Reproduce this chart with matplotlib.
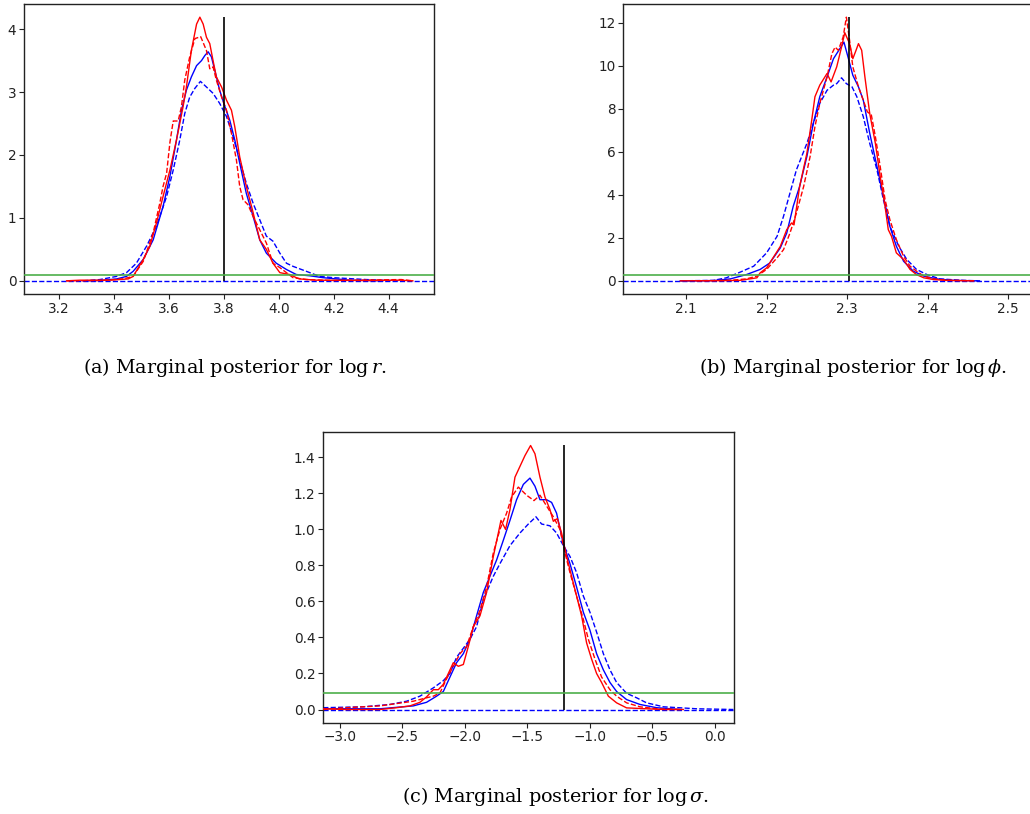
import matplotlib
matplotlib.use("Agg")
import matplotlib.pyplot as plt
import numpy as np

plt.rcParams['font.family'] = ['DejaVu Sans']
plt.rcParams['mathtext.fontset'] = 'dejavuserif'

# ---------------- Panel (a): log r ----------------
a_rs_x = [3.228, 3.276, 3.385, 3.452, 3.470, 3.507, 3.531, 3.555, 3.579, 3.604, 3.628, 3.652, 3.664,
          3.682, 3.701, 3.713, 3.725, 3.737, 3.749, 3.761, 3.773, 3.792, 3.810, 3.828, 3.840, 3.858,
          3.882, 3.907, 3.931, 3.955, 3.979, 4.004, 4.040, 4.064, 4.076, 4.137, 4.319, 4.440, 4.488]
a_rs_y = [0.0, 0.01, 0.01, 0.03, 0.07, 0.34, 0.55, 0.92, 1.34, 1.76, 2.24, 2.77, 3.08,
          3.66, 4.08, 4.19, 4.08, 3.87, 3.77, 3.50, 3.24, 3.08, 2.87, 2.71, 2.45, 1.97,
          1.50, 1.08, 0.65, 0.50, 0.28, 0.13, 0.10, 0.05, 0.03, 0.01, 0.005, 0.01, 0.0]

a_rd_x = [3.228, 3.349, 3.433, 3.470, 3.507, 3.543, 3.567, 3.579, 3.592, 3.604, 3.616, 3.634, 3.646,
          3.658, 3.676, 3.695, 3.716, 3.737, 3.749, 3.761, 3.773, 3.792, 3.810, 3.828, 3.846, 3.858,
          3.870, 3.888, 3.907, 3.931, 3.955, 3.979, 4.004, 4.028, 4.052, 4.101, 4.198, 4.446, 4.488]
a_rd_y = [0.0, 0.005, 0.03, 0.07, 0.31, 0.76, 1.23, 1.50, 1.71, 2.20, 2.54, 2.54, 2.77,
          3.19, 3.56, 3.85, 3.88, 3.66, 3.37, 3.40, 3.19, 2.92, 2.71, 2.34, 1.92, 1.50,
          1.29, 1.21, 1.02, 0.81, 0.60, 0.28, 0.21, 0.13, 0.05, 0.02, 0.005, 0.02, 0.0]

a_bs_x = [3.288, 3.349, 3.410, 3.446, 3.470, 3.507, 3.543, 3.579, 3.604, 3.628, 3.646, 3.664, 3.682,
          3.701, 3.719, 3.731, 3.743, 3.755, 3.767, 3.785, 3.804, 3.822, 3.840, 3.858, 3.882, 3.907,
          3.931, 3.955, 3.991, 4.028, 4.064, 4.113, 4.161, 4.258, 4.379]
a_bs_y = [0.0, 0.005, 0.03, 0.07, 0.15, 0.34, 0.65, 1.18, 1.66, 2.24, 2.71, 3.03, 3.24,
          3.42, 3.50, 3.58, 3.64, 3.56, 3.35, 3.03, 2.77, 2.55, 2.24, 1.87, 1.39, 1.02,
          0.65, 0.44, 0.28, 0.18, 0.10, 0.08, 0.05, 0.01, 0.0]

a_bd_x = [3.288, 3.349, 3.410, 3.446, 3.482, 3.519, 3.555, 3.592, 3.616, 3.640, 3.658, 3.676, 3.695,
          3.715, 3.737, 3.761, 3.785, 3.810, 3.834, 3.858, 3.882, 3.907, 3.931, 3.955, 3.979, 4.004,
          4.028, 4.052, 4.101, 4.149, 4.198, 4.319, 4.440]
a_bd_y = [0.0, 0.02, 0.07, 0.13, 0.28, 0.55, 0.87, 1.34, 1.76, 2.24, 2.66, 2.92, 3.06,
          3.17, 3.08, 2.98, 2.82, 2.61, 2.29, 1.92, 1.55, 1.23, 0.97, 0.71, 0.63, 0.44,
          0.28, 0.23, 0.15, 0.07, 0.05, 0.02, 0.0]

# ---------------- Panel (b): log phi ----------------
b_rs_x = [2.093, 2.134, 2.167, 2.188, 2.192, 2.200, 2.208, 2.217, 2.225, 2.231, 2.234, 2.241, 2.250,
          2.256, 2.260, 2.266, 2.275, 2.280, 2.287, 2.293, 2.297, 2.303, 2.307, 2.311, 2.314, 2.318,
          2.322, 2.328, 2.335, 2.341, 2.347, 2.351, 2.355, 2.361, 2.370, 2.378, 2.386, 2.395, 2.407,
          2.423, 2.457]
b_rs_y = [0.0, 0.005, 0.02, 0.14, 0.37, 0.60, 1.07, 1.60, 2.38, 2.69, 2.60, 4.39, 5.93,
          7.47, 8.56, 9.10, 9.64, 9.25, 9.95, 10.87, 11.54, 11.03, 10.33, 10.72, 11.03, 10.72,
          9.48, 7.78, 6.39, 4.85, 3.46, 2.38, 2.07, 1.30, 0.99, 0.53, 0.29, 0.14, 0.06,
          0.02, 0.0]

b_rd_x = [2.113, 2.154, 2.175, 2.188, 2.200, 2.213, 2.221, 2.229, 2.237, 2.246, 2.254, 2.260, 2.266,
          2.275, 2.281, 2.285, 2.289, 2.295, 2.299, 2.303, 2.307, 2.314, 2.320, 2.325, 2.330, 2.335,
          2.341, 2.347, 2.353, 2.361, 2.370, 2.378, 2.386, 2.395, 2.407, 2.423, 2.457]
b_rd_y = [0.0, 0.02, 0.09, 0.22, 0.53, 1.07, 1.45, 2.22, 3.15, 4.39, 5.78, 7.17, 8.25,
          9.48, 10.56, 10.87, 10.72, 11.34, 12.26, 11.18, 9.95, 9.02, 8.40, 7.86, 7.71, 6.70,
          5.31, 3.77, 2.84, 1.92, 1.14, 0.68, 0.45, 0.22, 0.09, 0.03, 0.0]

b_bs_x = [2.093, 2.134, 2.155, 2.175, 2.192, 2.204, 2.217, 2.225, 2.233, 2.241, 2.250, 2.258, 2.266,
          2.275, 2.283, 2.291, 2.296, 2.301, 2.307, 2.314, 2.320, 2.328, 2.337, 2.345, 2.353, 2.361,
          2.370, 2.382, 2.395, 2.411, 2.432, 2.461]
b_bs_y = [0.0, 0.01, 0.09, 0.29, 0.53, 0.83, 1.53, 2.22, 3.46, 4.39, 5.78, 7.32, 8.56,
          9.48, 10.33, 10.80, 11.10, 10.41, 9.56, 9.02, 8.40, 6.86, 5.31, 3.92, 2.53, 1.61,
          0.91, 0.45, 0.22, 0.09, 0.02, 0.0]

b_bd_x = [2.093, 2.134, 2.150, 2.167, 2.184, 2.200, 2.213, 2.221, 2.229, 2.237, 2.250, 2.258, 2.266,
          2.275, 2.283, 2.287, 2.293, 2.299, 2.306, 2.312, 2.320, 2.328, 2.337, 2.345, 2.353, 2.364,
          2.374, 2.386, 2.399, 2.415, 2.444, 2.465]
b_bd_y = [0.0, 0.02, 0.14, 0.40, 0.68, 1.30, 2.07, 3.00, 4.08, 5.16, 6.39, 7.32, 8.25,
          8.86, 9.10, 9.17, 9.44, 9.17, 9.02, 8.56, 7.63, 6.39, 5.16, 3.77, 2.53, 1.61,
          0.99, 0.53, 0.29, 0.09, 0.02, 0.0]

# ---------------- Panel (c): log sigma ----------------
c_rs_x = [-3.133, -2.947, -2.680, -2.547, -2.440, -2.360, -2.307, -2.253, -2.213, -2.173, -2.133,
          -2.093, -2.053, -2.013, -1.973, -1.933, -1.880, -1.827, -1.773, -1.733, -1.712, -1.675,
          -1.640, -1.600, -1.560, -1.520, -1.475, -1.440, -1.400, -1.360, -1.320, -1.293, -1.261,
          -1.227, -1.187, -1.147, -1.107, -1.067, -1.027, -0.987, -0.947, -0.907, -0.853, -0.787,
          -0.707, -0.547, -0.413, -0.253]
c_rs_y = [0.004, 0.0, 0.0, 0.01, 0.02, 0.04, 0.07, 0.11, 0.11, 0.14, 0.20,
          0.26, 0.24, 0.25, 0.35, 0.46, 0.52, 0.65, 0.85, 0.98, 1.05, 1.00,
          1.11, 1.29, 1.35, 1.41, 1.466, 1.42, 1.29, 1.18, 1.11, 1.045, 1.06,
          0.98, 0.85, 0.74, 0.63, 0.52, 0.37, 0.28, 0.20, 0.15, 0.074, 0.037,
          0.009, 0.004, 0.0, 0.0]

c_rd_x = [-3.133, -2.947, -2.680, -2.547, -2.413, -2.307, -2.253, -2.200, -2.147, -2.093, -2.040,
          -1.987, -1.933, -1.880, -1.827, -1.773, -1.720, -1.667, -1.627, -1.573, -1.507, -1.448,
          -1.400, -1.347, -1.293, -1.240, -1.200, -1.160, -1.107, -1.053, -1.013, -0.960, -0.907,
          -0.840, -0.787, -0.707, -0.600, -0.467, -0.280]
c_rd_y = [0.0, 0.01, 0.02, 0.033, 0.046, 0.065, 0.074, 0.092, 0.17, 0.24, 0.31,
          0.35, 0.46, 0.55, 0.68, 0.87, 1.00, 1.09, 1.18, 1.235, 1.19, 1.16,
          1.19, 1.13, 1.07, 1.00, 0.87, 0.76, 0.63, 0.50, 0.39, 0.28, 0.18,
          0.11, 0.074, 0.037, 0.015, 0.004, 0.0]

c_bs_x = [-3.133, -2.680, -2.413, -2.307, -2.227, -2.173, -2.120, -2.067, -2.013, -1.960, -1.907,
          -1.853, -1.800, -1.747, -1.693, -1.640, -1.587, -1.533, -1.480, -1.440, -1.400, -1.347,
          -1.307, -1.267, -1.213, -1.160, -1.107, -1.053, -1.000, -0.947, -0.893, -0.840, -0.787,
          -0.707, -0.600, -0.467, -0.280]
c_bs_y = [0.004, 0.004, 0.02, 0.04, 0.074, 0.10, 0.18, 0.26, 0.31, 0.39, 0.52,
          0.65, 0.74, 0.83, 0.94, 1.05, 1.165, 1.25, 1.285, 1.24, 1.165, 1.165,
          1.15, 1.09, 0.92, 0.81, 0.68, 0.54, 0.44, 0.31, 0.22, 0.15, 0.10,
          0.055, 0.028, 0.01, 0.0]

c_bd_x = [-3.133, -2.813, -2.600, -2.467, -2.360, -2.253, -2.173, -2.120, -2.067, -2.013, -1.960,
          -1.907, -1.853, -1.773, -1.720, -1.640, -1.560, -1.493, -1.432, -1.387, -1.320, -1.267,
          -1.213, -1.160, -1.107, -1.053, -1.000, -0.947, -0.893, -0.840, -0.787, -0.707, -0.627,
          -0.547, -0.413, -0.147, 0.147]
c_bd_y = [0.01, 0.015, 0.028, 0.046, 0.074, 0.12, 0.16, 0.20, 0.29, 0.34, 0.39,
          0.46, 0.61, 0.74, 0.81, 0.91, 0.98, 1.03, 1.07, 1.03, 1.02, 0.98,
          0.91, 0.85, 0.76, 0.63, 0.54, 0.43, 0.31, 0.22, 0.15, 0.09, 0.065,
          0.037, 0.015, 0.004, 0.0]

true_values = [3.8, np.log(10.0), np.log(0.3)]
prior_levels = [0.1, 0.25, 0.092]
x_limits = [(3.073, 4.565), (2.0218, 2.5306), (-3.133, 0.152)]
x_ticks = [[3.2, 3.4, 3.6, 3.8, 4.0, 4.2, 4.4],
           [2.1, 2.2, 2.3, 2.4, 2.5],
           [-3.0, -2.5, -2.0, -1.5, -1.0, -0.5, 0.0]]
y_ticks = [[0, 1, 2, 3, 4],
           [0, 2, 4, 6, 8, 10, 12],
           [0.0, 0.2, 0.4, 0.6, 0.8, 1.0, 1.2, 1.4]]
captions = [r"(a) Marginal posterior for $\log r$.",
            r"(b) Marginal posterior for $\log\phi$.",
            r"(c) Marginal posterior for $\log\sigma$."]

panels = [
    (a_bd_x, a_bd_y, a_bs_x, a_bs_y, a_rd_x, a_rd_y, a_rs_x, a_rs_y),
    (b_bd_x, b_bd_y, b_bs_x, b_bs_y, b_rd_x, b_rd_y, b_rs_x, b_rs_y),
    (c_bd_x, c_bd_y, c_bs_x, c_bs_y, c_rd_x, c_rd_y, c_rs_x, c_rs_y),
]

W, H = 1030, 814
fig = plt.figure(figsize=(W / 100, H / 100), dpi=100)
rects_px = [(24, 4, 434, 294), (623, 4, 1033, 294), (323.3, 432.3, 734, 722.7)]

lw = 1.0
for i, (rect, data) in enumerate(zip(rects_px, panels)):
    l, t, r, b = rect
    ax = fig.add_axes([l / W, 1 - b / H, (r - l) / W, (b - t) / H])
    bdx, bdy, bsx, bsy, rdx, rdy, rsx, rsy = data
    ax.axhline(0, color='blue', ls='--', lw=lw, zorder=1)
    ax.plot(bdx, bdy, color='blue', ls='--', lw=lw, zorder=2)
    ax.plot(bsx, bsy, color='blue', ls='-', lw=lw, zorder=3)
    ax.plot(rdx, rdy, color='red', ls='--', lw=lw, zorder=4)
    ax.plot(rsx, rsy, color='red', ls='-', lw=lw, zorder=5)
    ymax = max(max(bdy), max(bsy), max(rdy), max(rsy))
    ax.vlines(true_values[i], 0, ymax, color='black', lw=1.2, zorder=6)
    ax.axhline(prior_levels[i], color='#4daf4a', lw=1.2, zorder=6)
    ax.set_xlim(*x_limits[i])
    ax.set_xticks(x_ticks[i])
    ax.set_yticks(y_ticks[i])
    ax.set_xticklabels([f"{v:.1f}".replace("-", "\u2212") for v in x_ticks[i]])
    if i == 2:
        ax.set_yticklabels([f"{v:.1f}" for v in y_ticks[i]])
    ax.tick_params(labelsize=9.8, length=3.5, width=0.8, pad=2, colors='#222222')
    for s in ax.spines.values():
        s.set_linewidth(1.0)
        s.set_color('#222222')

cap_kw = dict(ha='center', va='center', fontsize=13.8, family='DejaVu Serif')
fig.text(235 / W, 1 - 368 / H, captions[0], **cap_kw)
fig.text(853 / W, 1 - 368 / H, captions[1], **cap_kw)
fig.text(555 / W, 1 - 797 / H, captions[2], **cap_kw)

fig.savefig("out.png", dpi=100)
